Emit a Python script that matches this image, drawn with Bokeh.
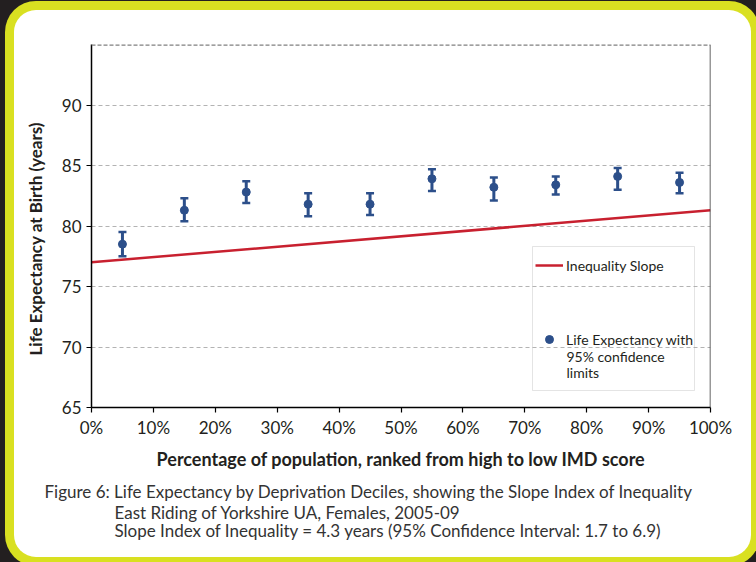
from bokeh.plotting import figure
from bokeh.layouts import column
from bokeh.models import (FixedTicker, Whisker, TeeHead, ColumnDataSource, Span, Label,
                          Legend, LegendItem, BoxAnnotation, Title)
from bokeh.embed import file_html
from bokeh.resources import INLINE

# ---- data ----
deciles = [5, 15, 25, 35, 45, 55, 65, 75, 85, 95]
life_exp = [78.5, 81.3, 82.8, 81.8, 81.8, 83.9, 83.2, 83.4, 84.1, 83.6]
lower_ci = [77.5, 80.4, 81.9, 80.8, 80.9, 82.9, 82.1, 82.6, 83.0, 82.7]
upper_ci = [79.5, 82.3, 83.7, 82.7, 82.7, 84.7, 84.0, 84.1, 84.8, 84.4]
slope_x = [0, 100]
slope_y = [77.0, 81.3]
x_ticks = [0, 10, 20, 30, 40, 50, 60, 70, 80, 90, 100]
x_tick_labels = ["0%", "10%", "20%", "30%", "40%", "50%", "60%", "70%", "80%", "90%", "100%"]
y_ticks = [65, 70, 75, 80, 85, 90]
grid_ticks = [70, 75, 80, 85, 90]
captions = [
    "Figure 6: Life Expectancy by Deprivation Deciles, showing the Slope Index of Inequality",
    "East Riding of Yorkshire UA, Females, 2005-09",
    "Slope Index of Inequality = 4.3 years (95% Confidence Interval: 1.7 to 6.9)",
]

BLUE = "#2c4f8a"
RED = "#c8202f"
DARK = "#231f20"
FONT = "Lato"

p = figure(width=737, height=547, x_range=(0, 100), y_range=(65, 95),
           output_backend="svg", toolbar_location=None,
           min_border_left=76, min_border_right=41, min_border_top=34, min_border_bottom=150)
p.margin = (10, 5, 5, 14)
p.border_fill_color = None
p.background_fill_color = "white"
p.outline_line_color = None
p.styles = {"background-color": "white", "border-radius": "22px",
            "box-shadow": "0 0 0 9px #d9e021"}

# grid
p.xgrid.visible = False
p.ygrid.ticker = FixedTicker(ticks=grid_ticks)
p.ygrid.grid_line_color = "#b3b3b3"
p.ygrid.grid_line_dash = "4 3"
p.ygrid.grid_line_width = 1.2

# axes
for ax in (p.xaxis[0], p.yaxis[0]):
    ax.minor_tick_line_color = None
    ax.major_tick_in = 0
    ax.major_tick_out = 5
    ax.axis_line_color = "black"
    ax.axis_line_width = 1.5
    ax.major_tick_line_color = "black"
    ax.major_tick_line_width = 1.2
    ax.major_label_text_font = FONT
    ax.major_label_text_font_size = "17px"
    ax.major_label_text_color = DARK
p.xaxis.ticker = FixedTicker(ticks=x_ticks)
p.xaxis.major_label_overrides = {t: s for t, s in zip(x_ticks, x_tick_labels)}
p.xaxis.major_label_standoff = 4
p.yaxis.ticker = FixedTicker(ticks=y_ticks)
p.yaxis.major_label_standoff = 5
p.xaxis.axis_label = "Percentage of population, ranked from high to low IMD score"
p.xaxis.axis_label_text_font = FONT
p.xaxis.axis_label_text_font_style = "bold"
p.xaxis.axis_label_text_font_size = "18px"
p.xaxis.axis_label_text_color = DARK
p.xaxis.axis_label_standoff = 7

# y axis label as a left-side title (shifted down like the reference)
p.add_layout(Title(text="Life Expectancy at Birth (years)", align="left", vertical_align="top",
                   offset=52, standoff=21, text_font=FONT, text_font_style="bold",
                   text_font_size="17px", text_color=DARK), "left")

# caption lines below the x axis
cap_offsets = [-47, 23, 23]
cap_standoffs = [16, -20, 10]
for txt, off, so in zip(captions, cap_offsets, cap_standoffs):
    p.add_layout(Title(text=txt, align="left", vertical_align="top", offset=off, standoff=so,
                       text_font=FONT, text_font_style="normal", text_font_size="17px",
                       text_color="#333333"), "below")

# frame borders
p.add_layout(Span(location=100, dimension="height", line_color="#333333", line_width=1.5))
p.add_layout(Span(location=95, dimension="width", line_color="#808080", line_width=2.5, line_dash="4 2"))

# data
src = ColumnDataSource(dict(x=deciles, y=life_exp, lower=lower_ci, upper=upper_ci))
slope = p.line(slope_x, slope_y, line_color=RED, line_width=2.5)
pts = p.scatter("x", "y", source=src, size=8, color=BLUE)
wh = Whisker(source=src, base="x", upper="upper", lower="lower", line_color=BLUE, line_width=3,
             upper_head=TeeHead(size=8, line_color=BLUE, line_width=2.5),
             lower_head=TeeHead(size=8, line_color=BLUE, line_width=2.5))
p.add_layout(wh)

# legend
common = dict(glyph_width=28, glyph_height=20, label_height=20, label_standoff=3, padding=0,
              margin=0, spacing=0, border_line_color=None, background_fill_alpha=0,
              label_text_font=FONT, label_text_font_size="14px", label_text_color=DARK)
leg1 = Legend(items=[LegendItem(label="Inequality Slope", renderers=[slope])], location=(444, 132), **common)
leg2 = Legend(items=[LegendItem(label="Life Expectancy with", renderers=[pts])], location=(444, 58), **common)
p.add_layout(leg1)
p.add_layout(leg2)
for txt, yy in (("95% confidence", 51), ("limits", 35)):
    p.add_layout(Label(x=475, y=yy, x_units="screen", y_units="screen", text=txt,
                       text_font=FONT, text_font_size="14px", text_color=DARK, text_baseline="middle"))
p.add_layout(BoxAnnotation(left=441, right=603, top=161, bottom=17, left_units="screen",
                           right_units="screen", top_units="screen", bottom_units="screen",
                           fill_alpha=0, line_color="#a6a6a6", line_width=1))

page = column(p, styles={"background-color": DARK})

open("out.html", "w").write(file_html(page, INLINE))
